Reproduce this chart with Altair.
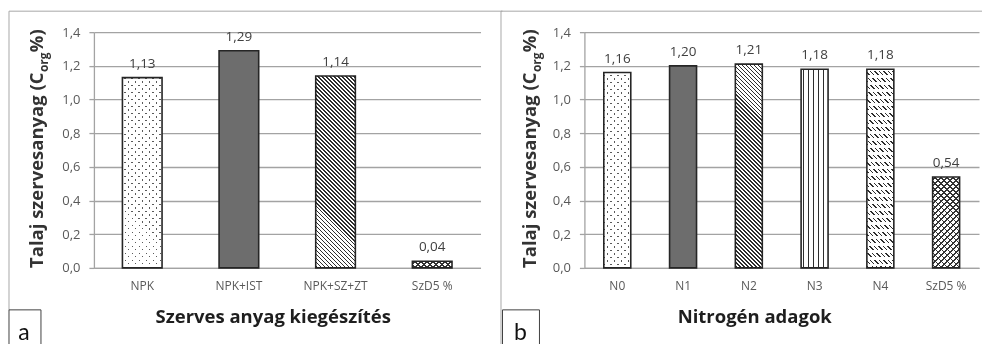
import altair as alt
import pandas as pd

# ---------------- data ----------------
cats_a = ["NPK", "NPK+IST", "NPK+SZ+ZT", "SzD5 %"]
vals_a = [1.13, 1.29, 1.14, 0.04]
pats_a = ["dots", "dark", "diag", "zigzag"]

cats_b = ["N0", "N1", "N2", "N3", "N4", "SzD5 %"]
vals_b = [1.16, 1.20, 1.21, 1.18, 1.18, 0.54]
pats_b = ["dots", "dark", "diag", "vert", "dashdiag", "zigzag"]

y_ticks = [0, 0.2, 0.4, 0.6, 0.8, 1.0, 1.2, 1.4]
x_title_a = "Szerves anyag kiegészítés"
x_title_b = "Nitrogén adagok"
y_title_parts = ["Talaj szervesanyag (C", "org", " %)"]
panel_letters = ["a", "b"]

# ---------------- style ----------------
H = 236
WA, WB = 387, 395
PI, PO = 0.59, 0.295
YMAX = 1.4
GRID = "#a3a3a3"
BORDER = "#a8a8a8"
FONT = "Open Sans"
TFS = 18.5


def stops(span, period, lw, fg, bg):
    out = [{"offset": 0, "color": bg}]
    pos = period / 2 - lw / 2
    while pos < span:
        a = round(max(pos, 0) / span, 5)
        b = round(min(pos + lw, span) / span, 5)
        out += [
            {"offset": a, "color": bg},
            {"offset": a, "color": fg},
            {"offset": b, "color": fg},
            {"offset": b, "color": bg},
        ]
        pos += period
    out.append({"offset": 1, "color": bg})
    return out


def grad(kind, w, h, period, lw, fg, bg="#ffffff"):
    if kind == "v":
        return dict(gradient="linear", x1=0, y1=0, x2=1, y2=0,
                    stops=stops(w, period, lw, fg, bg))
    if kind == "h":
        return dict(gradient="linear", x1=0, y1=0, x2=0, y2=1,
                    stops=stops(h, period, lw, fg, bg))
    k = (w + h) / (w * w + h * h)
    if kind == "back":
        return dict(gradient="linear", x1=0, y1=1, x2=round(k * w, 6),
                    y2=round(1 - k * h, 6), stops=stops(w + h, period, lw, fg, bg))
    return dict(gradient="linear", x1=0, y1=0, x2=round(k * w, 6),
                y2=round(k * h, 6), stops=stops(w + h, period, lw, fg, bg))


def panel(cats, vals, pats, W, x_title, title_x, ytitle_x, letter, letter_x,
          box_x0, box_x1, deco_lines):
    df = pd.DataFrame({"cat": cats, "v": vals})
    n = len(cats)
    step = W / (n - PI + 2 * PO)
    bw = step * (1 - PI)

    X = alt.X("cat:N", sort=cats,
              scale=alt.Scale(domain=cats, paddingInner=PI, paddingOuter=PO),
              axis=alt.Axis(title=x_title, labelAngle=0, ticks=False,
                            domainColor=GRID, domainWidth=1.3,
                            labelColor="#595959", labelFont=FONT,
                            labelFontSize=12, labelPadding=13,
                            titleFont=FONT, titleFontSize=TFS,
                            titleFontWeight="bold", titleColor="#1e1e1e",
                            titleX=title_x, titleY=49,
                            titleBaseline="middle"))
    Y = alt.Y("v:Q", scale=alt.Scale(domain=[0, YMAX], nice=False),
              axis=alt.Axis(title="", values=y_ticks,
                            labelExpr="replace(format(datum.value, '.1f'), '.', ',')",
                            grid=True, gridColor=GRID, gridWidth=1.3,
                            domainColor=GRID, domainWidth=1.3,
                            tickColor=GRID, tickSize=5, tickWidth=1.3,
                            labelPadding=9, labelFont=FONT, labelFontSize=13,
                            labelColor="#595959"))

    base = alt.Chart(df)
    layers = []
    for cat, val, pat in zip(cats, vals, pats):
        h = val / YMAX * H
        w = bw
        sub = base.transform_filter(alt.datum.cat == cat)
        if pat == "dark":
            layers.append(sub.mark_bar(fill="#6d6d6d").encode(x=X, y=Y))
        elif pat == "dots":
            layers.append(sub.mark_bar(fill=grad("back", w, h, 7, 1.9, "#5a5a5a")).encode(x=X, y=Y))
            layers.append(sub.mark_bar(fill=grad("fwd", w, h, 7, 1.9, "#000000"),
                                       blend="lighten").encode(x=X, y=Y))
        elif pat == "diag":
            layers.append(sub.mark_bar(fill=grad("back", w, h, 4, 1.5, "#2e2e2e")).encode(x=X, y=Y))
        elif pat == "vert":
            layers.append(sub.mark_bar(fill=grad("v", w, h, 5, 1.4, "#2e2e2e")).encode(x=X, y=Y))
        elif pat == "dashdiag":
            layers.append(sub.mark_bar(fill=grad("back", w, h, 4.5, 1.4, "#2e2e2e")).encode(x=X, y=Y))
            layers.append(sub.mark_bar(fill=grad("h", w, h, 7, 4, "#000000"),
                                       blend="lighten").encode(x=X, y=Y))
        elif pat == "zigzag":
            layers.append(sub.mark_bar(fill=grad("back", w, h, 6, 1.3, "#333333")).encode(x=X, y=Y))
            layers.append(sub.mark_bar(fill=grad("fwd", w, h, 6, 1.3, "#333333"),
                                       blend="darken").encode(x=X, y=Y))
        layers.append(sub.mark_bar(fillOpacity=0, stroke="#262626",
                                   strokeWidth=1.6).encode(x=X, y=Y))

    labels = base.transform_calculate(
        lab="replace(format(datum.v, '.2f'), '.', ',')"
    ).mark_text(dy=-10, baseline="alphabetic", font=FONT, fontSize=13.5,
                color="#404040").encode(x=X, y=Y, text="lab:N")
    layers.append(labels)

    deco = alt.Chart(pd.DataFrame({"d": [0]}))
    for (xa, ya, xb, yb) in deco_lines:
        if xa == xb:
            layers.append(deco.mark_rule(color=BORDER, strokeWidth=1).encode(
                x=alt.value(xa), y=alt.value(ya), y2=alt.value(yb)))
        else:
            layers.append(deco.mark_rule(color=BORDER, strokeWidth=1).encode(
                x=alt.value(xa), x2=alt.value(xb), y=alt.value(ya)))
    layers.append(deco.mark_rect(fill="white", stroke="#404040", strokeWidth=1).encode(
        x=alt.value(box_x0), x2=alt.value(box_x1), y=alt.value(278), y2=alt.value(322)))
    layers.append(deco.mark_text(font="Lato", fontSize=23, color="#111111",
                                 baseline="alphabetic").encode(
        x=alt.value(letter_x), y=alt.value(308), text=alt.value(letter)))

    # rotated y title with subscript
    layers.append(deco.mark_text(font=FONT, fontSize=TFS, fontWeight="bold",
                                 color="#333333", angle=270, align="left",
                                 baseline="middle").encode(
        x=alt.value(ytitle_x), y=alt.value(236), text=alt.value(y_title_parts[0])))
    layers.append(deco.mark_text(font=FONT, fontSize=12, fontWeight="bold",
                                 color="#333333", angle=270, align="left",
                                 baseline="middle").encode(
        x=alt.value(ytitle_x + 7), y=alt.value(40), text=alt.value(y_title_parts[1])))
    layers.append(deco.mark_text(font=FONT, fontSize=TFS, fontWeight="bold",
                                 color="#333333", angle=270, align="left",
                                 baseline="middle").encode(
        x=alt.value(ytitle_x), y=alt.value(20), text=alt.value(y_title_parts[2])))

    return alt.layer(*layers).properties(width=W, height=H)


left = panel(cats_a, vals_a, pats_a, WA, x_title_a, 179, -57, panel_letters[0], -70,
             -85, -53,
             [(-85, -21, -85, 278), (-85, -21, 409, -21)])
right = panel(cats_b, vals_b, pats_b, WB, x_title_b, 170, -54, panel_letters[1], -64,
              -82, -45,
              [(-83.5, -21, -83.5, 322), (-83.5, -21, 398, -21)])

chart = alt.hconcat(left, right, spacing=104, bounds="flush").properties(
    padding={"left": 0, "top": 2, "right": 0, "bottom": 0}
).configure_view(stroke="transparent")

chart.save("out.html", embed_options={"renderer": "svg", "actions": False})
